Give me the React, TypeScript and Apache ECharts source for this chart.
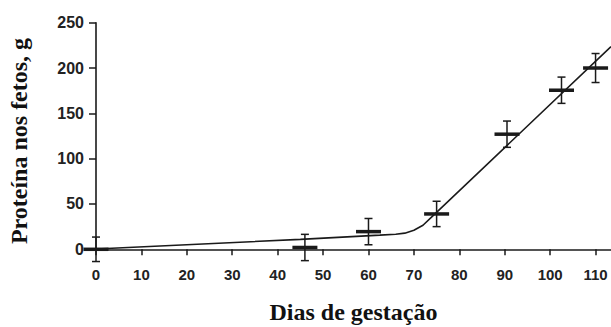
import React, { useEffect, useRef } from "react";
import * as echarts from "echarts";

// Observed points (day of gestation, fetal protein g, ± error)
const days = [0, 46, 60, 75, 90.5, 102.5, 110];
const protein = [0, 2, 19.5, 39, 127, 175.5, 200];
const errors = [13.5, 14.5, 14.5, 14, 14.5, 14.5, 16];

// Fitted broken-line model
const fitDays = [0, 45, 62.5, 66, 68, 70, 72, 74, 113.4];
const fitProtein = [0.3, 11, 15.6, 16.6, 17.8, 21, 26.5, 36, 223.6];

const xTicks = [0, 10, 20, 30, 40, 50, 60, 70, 80, 90, 100, 110];

const xTitle = "Dias de gestação";
const yTitle = "Proteína nos fetos, g";

const INK = "#1a1a1a";

export default function App() {
  const ref = useRef<HTMLDivElement>(null);
  useEffect(() => {
    if (!ref.current) return;
    const chart = echarts.init(ref.current, null, { renderer: "svg" });
    const pointData = days.map((d, i) => [d, protein[i], errors[i]]);
    const fitData = fitDays.map((d, i) => [d, fitProtein[i]]);
    chart.setOption({
      animation: false,
      backgroundColor: "#ffffff",
      grid: {
        left: 96,
        right: 0,
        top: 22.7,
        bottom: 77.7,
        containLabel: false,
        outerBoundsMode: "none",
      },
      graphic: [
        {
          type: "text",
          x: 19,
          y: 141,
          rotation: Math.PI / 2,
          style: {
            text: yTitle,
            textAlign: "center",
            textVerticalAlign: "middle",
            fontFamily: "Liberation Serif",
            fontWeight: "bold",
            fontSize: 24,
            fill: "#111",
          },
        },
      ],
      xAxis: {
        type: "value",
        min: 0,
        max: 113.4,
        interval: 10,
        name: xTitle,
        nameLocation: "middle",
        nameGap: 51,
        nameTextStyle: {
          fontFamily: "Liberation Serif",
          fontWeight: "bold",
          fontSize: 24,
          color: "#111",
        },
        axisLine: { lineStyle: { color: INK, width: 1.6 } },
        axisTick: {
          show: true,
          inside: false,
          length: 6,
          customValues: xTicks,
          lineStyle: { color: INK, width: 1.5 },
        },
        axisLabel: {
          customValues: xTicks,
          margin: 18,
          fontFamily: "Liberation Sans",
          fontWeight: "bold",
          fontSize: 15,
          color: "#222",
        },
        splitLine: { show: false },
      },
      yAxis: {
        type: "value",
        min: 0,
        max: 250,
        interval: 50,
        axisLine: { show: true, lineStyle: { color: INK, width: 1.6 } },
        axisTick: {
          show: true,
          inside: false,
          length: 7,
          lineStyle: { color: INK, width: 1.5 },
        },
        axisLabel: {
          margin: 12,
          fontFamily: "Liberation Sans",
          fontWeight: "bold",
          fontSize: 16,
          color: "#222",
        },
        splitLine: { show: false },
      },
      series: [
        {
          type: "line",
          data: fitData,
          showSymbol: false,
          symbol: "none",
          lineStyle: { color: INK, width: 1.6 },
          z: 2,
        },
        {
          type: "custom",
          data: pointData,
          clip: false,
          z: 3,
          renderItem: (params: any, api: any) => {
            const x = api.value(0);
            const y = api.value(1);
            const e = api.value(2);
            const c = api.coord([x, y]);
            const top = api.coord([x, y + e]);
            const bot = api.coord([x, y - e]);
            const cap = 4;
            const half = 12.5;
            const thin = { stroke: INK, lineWidth: 1.5 };
            return {
              type: "group",
              children: [
                { type: "line", shape: { x1: c[0], y1: top[1], x2: c[0], y2: bot[1] }, style: thin },
                { type: "line", shape: { x1: c[0] - cap, y1: top[1], x2: c[0] + cap, y2: top[1] }, style: thin },
                { type: "line", shape: { x1: c[0] - cap, y1: bot[1], x2: c[0] + cap, y2: bot[1] }, style: thin },
                {
                  type: "line",
                  shape: { x1: c[0] - half, y1: c[1], x2: c[0] + half, y2: c[1] },
                  style: { stroke: INK, lineWidth: 3.5 },
                },
              ],
            };
          },
        },
      ],
    });
    return () => chart.dispose();
  }, []);
  return (
    <div
      ref={ref}
      style={{ position: "fixed", left: 0, top: 0, width: 611, height: 327, background: "#fff" }}
    />
  );
}
